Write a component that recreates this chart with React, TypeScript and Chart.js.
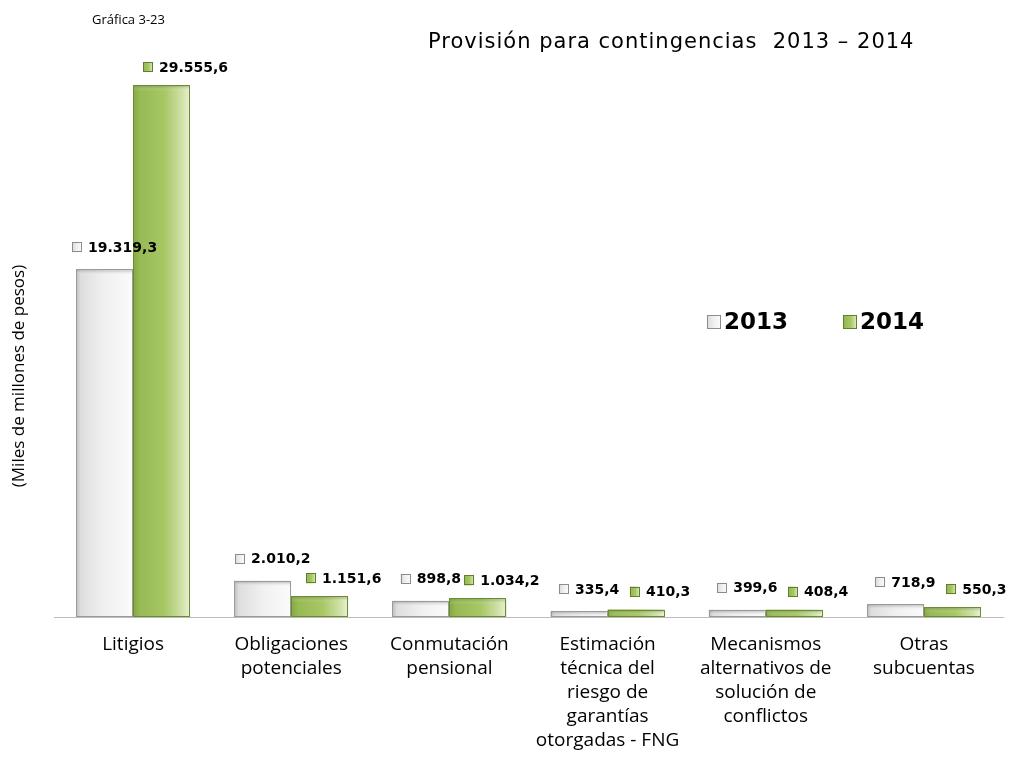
import { useEffect, useRef } from 'react';
import { Chart, registerables } from 'chart.js';
Chart.register(...registerables);

const chartNumber = 'Gráfica 3-23';
const titleText = 'Provisión para contingencias  2013 – 2014';
const yAxisTitle = '(Miles de millones de pesos)';
const categories: string[][] = [
  ['Litigios'],
  ['Obligaciones', 'potenciales'],
  ['Conmutación', 'pensional'],
  ['Estimación', 'técnica del', 'riesgo de', 'garantías', 'otorgadas - FNG'],
  ['Mecanismos', 'alternativos de', 'solución de', 'conflictos'],
  ['Otras', 'subcuentas'],
];
const seriesNames = ['2013', '2014'];
const values2013 = [19319.3, 2010.2, 898.8, 335.4, 399.6, 718.9];
const values2014 = [29555.6, 1151.6, 1034.2, 410.3, 408.4, 550.3];

function fmt(v: number): string {
  const [i, d] = v.toFixed(1).split('.');
  return i.replace(/\B(?=(\d{3})+(?!\d))/g, '.') + ',' + d;
}

function grayGrad(ctx: CanvasRenderingContext2D, x0: number, x1: number) {
  const g = ctx.createLinearGradient(x0, 0, x1, 0);
  g.addColorStop(0, '#bdbdbd');
  g.addColorStop(0.08, '#dedede');
  g.addColorStop(0.5, '#f0f0f0');
  g.addColorStop(1, '#fbfbfb');
  return g;
}
function greenGrad(ctx: CanvasRenderingContext2D, x0: number, x1: number) {
  const g = ctx.createLinearGradient(x0, 0, x1, 0);
  g.addColorStop(0, '#86a843');
  g.addColorStop(0.12, '#97ba55');
  g.addColorStop(0.55, '#a7c765');
  g.addColorStop(0.85, '#cfe0a6');
  g.addColorStop(1, '#eaf2d6');
  return g;
}

export default function App() {
  const ref = useRef<HTMLCanvasElement | null>(null);
  useEffect(() => {
    document.body.style.margin = '0';
    if (!ref.current) return;

    const decoPlugin = {
      id: 'deco',
      afterDatasetsDraw(chart: any) {
        const ctx: CanvasRenderingContext2D = chart.ctx;
        // gradient fill over each bar element
        chart.data.datasets.forEach((_: any, di: number) => {
          const meta = chart.getDatasetMeta(di);
          meta.data.forEach((el: any) => {
            const x0 = el.x - el.width / 2;
            const x1 = el.x + el.width / 2;
            const h = el.base - el.y;
            ctx.save();
            ctx.fillStyle = di === 0 ? grayGrad(ctx, x0, x1) : greenGrad(ctx, x0, x1);
            ctx.fillRect(x0, el.y, el.width, h);
            const g = ctx.createLinearGradient(0, el.y, 0, el.y + 6);
            g.addColorStop(0, di === 0 ? 'rgba(110,110,110,0.55)' : 'rgba(80,110,30,0.5)');
            g.addColorStop(1, 'rgba(255,255,255,0)');
            ctx.fillStyle = g;
            ctx.fillRect(x0 + 1, el.y + 1, el.width - 2, Math.min(6, h - 1));
            ctx.strokeStyle = di === 0 ? '#9a9a9a' : '#6a8b2f';
            ctx.lineWidth = 1;
            ctx.strokeRect(Math.round(x0) + 0.5, Math.round(el.y) + 0.5, Math.round(el.width) - 1, Math.round(h) - 1);
            ctx.restore();
          });
        });
        // value labels
        ctx.save();
        ctx.font = 'bold 14px "DejaVu Sans"';
        ctx.textBaseline = 'middle';
        chart.data.datasets.forEach((ds: any, di: number) => {
          const meta = chart.getDatasetMeta(di);
          meta.data.forEach((el: any, i: number) => {
            const text = fmt(ds.data[i]);
            const tw = ctx.measureText(text).width;
            const total = 10 + 6 + tw;
            const cx = el.x + (di === 0 ? 10 : 24);
            const cy = el.y - (di === 0 ? 22 : 18);
            const sx = cx - total / 2;
            ctx.fillStyle = di === 0 ? grayGrad(ctx, sx, sx + 10) : greenGrad(ctx, sx, sx + 10);
            ctx.fillRect(sx, cy - 5, 10, 10);
            ctx.strokeStyle = di === 0 ? '#8c8c8c' : '#5f7f2a';
            ctx.lineWidth = 1;
            ctx.strokeRect(Math.round(sx) + 0.5, Math.round(cy) - 4.5, 9, 9);
            ctx.fillStyle = '#000';
            ctx.textAlign = 'left';
            ctx.fillText(text, sx + 16, cy + 1);
          });
        });
        // legend
        ctx.font = 'bold 23px "DejaVu Sans"';
        const legendX = [707, 843];
        chart.data.datasets.forEach((ds: any, di: number) => {
          const lx = legendX[di];
          const ly = 322;
          ctx.fillStyle = di === 0 ? grayGrad(ctx, lx, lx + 14) : greenGrad(ctx, lx, lx + 14);
          ctx.fillRect(lx, ly - 7, 14, 14);
          ctx.strokeStyle = di === 0 ? '#8c8c8c' : '#5f7f2a';
          ctx.strokeRect(lx + 0.5, ly - 6.5, 13, 13);
          ctx.fillStyle = '#000';
          ctx.textAlign = 'left';
          ctx.fillText(ds.label, lx + 17, ly + 1);
        });
        // y axis title
        ctx.font = '17px "Open Sans"';
        ctx.translate(19, 376);
        ctx.rotate(-Math.PI / 2);
        ctx.textAlign = 'center';
        ctx.fillText(yAxisTitle, 0, 0);
        ctx.restore();
        // header texts
        ctx.save();
        ctx.fillStyle = '#000';
        ctx.textBaseline = 'middle';
        ctx.textAlign = 'left';
        ctx.font = '13px "Open Sans"';
        ctx.fillText(chartNumber, 92, 20);
        ctx.font = '21px "DejaVu Sans"';
        (ctx as any).letterSpacing = '1px';
        ctx.fillText(titleText, 428, 43);
        ctx.restore();
      },
    };

    const chart = new Chart(ref.current, {
      type: 'bar',
      data: {
        labels: categories,
        datasets: [
          {
            label: seriesNames[0],
            data: values2013,
            backgroundColor: '#eeeeee',
            borderColor: '#9a9a9a',
            borderWidth: 1,
            categoryPercentage: 0.72,
            barPercentage: 1.0,
          },
          {
            label: seriesNames[1],
            data: values2014,
            backgroundColor: '#a5c462',
            borderColor: '#6a8b2f',
            borderWidth: 1,
            categoryPercentage: 0.72,
            barPercentage: 1.0,
          },
        ],
      },
      options: {
        responsive: false,
        animation: false,
        layout: { padding: { left: 54, right: 9, top: 77, bottom: 0 } },
        plugins: {
          legend: { display: false },
          title: { display: false },
          tooltip: { enabled: false },
        },
        scales: {
          x: {
            grid: { display: false, drawTicks: false },
            border: { display: true, color: '#bcbcbc', width: 1 },
            ticks: {
              color: '#000',
              padding: 16,
              maxRotation: 0,
              autoSkip: false,
              font: { family: '"Open Sans"', size: 19, lineHeight: '24px' },
            },
            afterFit(scale: any) {
              scale.height = 145;
            },
          },
          y: {
            display: false,
            min: 0,
            max: 30000,
          },
        },
      },
      plugins: [decoPlugin],
    } as any);
    return () => chart.destroy();
  }, []);
  return (
    <div style={{ width: 1012, height: 762, background: '#fff' }}>
      <canvas ref={ref} width={1012} height={762} style={{ display: 'block' }} />
    </div>
  );
}
